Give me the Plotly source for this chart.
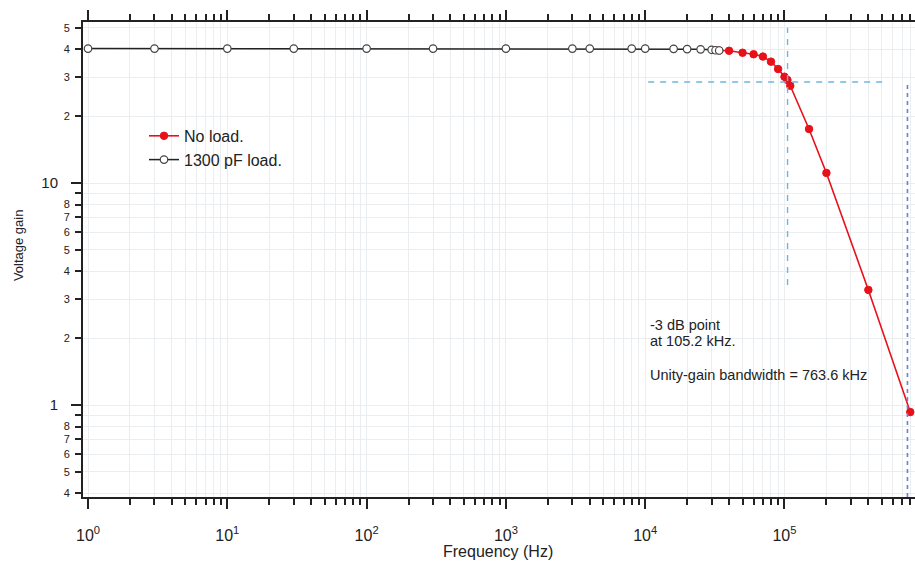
import plotly.graph_objects as go

# ---- data ----
load_freq = [1, 3, 10, 30, 100, 300, 1000, 3000, 4000, 8000, 10000, 16000,
             20000, 25000, 30000, 32000, 34000]
load_gain = [40.3, 40.3, 40.3, 40.3, 40.3, 40.3, 40.3, 40.3, 40.3, 40.3, 40.3,
             40.2, 40.1, 40.0, 39.8, 39.6, 39.5]

noload_freq = [34000, 40000, 50000, 60000, 70000, 80000, 90000, 100000, 105000,
               110000, 150000, 200000, 400000, 800000]
noload_gain = [39.5, 39.4, 38.6, 38.0, 37.1, 35.2, 32.6, 30.1, 29.1,
               27.4, 17.5, 11.1, 3.30, 0.93]

f_3db = 105.2e3
gain_3db = 28.5
f_unity = 763.6e3
vline_gain = [3.47, 50]
hline_freq = [10.5e3, 518e3]
unity_gain_span = [0.385, 28.5]

x_major = [1, 10, 100, 1000, 10000, 100000]
x_major_text = ["10<sup>%d</sup>" % i for i in range(6)]
x_minor = [m * d for d in [1, 10, 100, 1000, 10000, 100000] for m in range(2, 10)]

y_big = [1, 10]
y_big_text = ["1", "10"]
y_small = [0.4, 0.5, 0.6, 0.7, 0.8, 0.9, 2, 3, 4, 5, 6, 7, 8, 9, 20, 30, 40, 50]
y_small_text = ["4", "5", "6", "7", "8", "", "2", "3", "4", "5", "6", "7", "8", "",
                "2", "3", "4", "5"]

note_lines = ["-3 dB point", "at 105.2 kHz.", "Unity-gain bandwidth = 763.6 kHz"]
note_y = [0.3621, 0.3284, 0.2568]

FONT = "Liberation Sans, Arial, sans-serif"
AX = "#222222"
GRID = "#ebeef1"

fig = go.Figure()

fig.add_trace(go.Scatter(
    x=noload_freq, y=noload_gain, mode="lines+markers", name="No load.",
    line=dict(color="#e8111a", width=1.6), cliponaxis=False,
    marker=dict(symbol="circle", size=7.5, color="#e8111a",
                line=dict(color="#e8111a", width=1)),
))
fig.add_trace(go.Scatter(
    x=load_freq, y=load_gain, mode="lines+markers", name="1300 pF load.",
    line=dict(color="#222222", width=1.5), cliponaxis=False,
    marker=dict(symbol="circle", size=7.5, color="white",
                line=dict(color="#444444", width=1.2)),
))

# reference lines
fig.add_trace(go.Scatter(
    x=[f_3db, f_3db], y=vline_gain, mode="lines", showlegend=False,
    line=dict(color="#6cb8dc", width=1.4, dash="6px,6px"), yaxis="y2",
    hoverinfo="skip"))
fig.add_trace(go.Scatter(
    x=hline_freq, y=[gain_3db, gain_3db], mode="lines", showlegend=False,
    line=dict(color="#6cb8dc", width=1.4, dash="6px,6px"), yaxis="y2",
    hoverinfo="skip"))
fig.add_trace(go.Scatter(
    x=[f_unity, f_unity], y=unity_gain_span, mode="lines", showlegend=False,
    line=dict(color="#6a80d4", width=1.6, dash="4px,4px"), yaxis="y2",
    hoverinfo="skip"))

xr = [-0.036, 5.937]
yr = [-0.414, 1.725]

annotations = [
    dict(text="Voltage gain", xref="paper", yref="paper", x=-0.078, y=0.5305,
         xanchor="center", yanchor="middle", textangle=-90, showarrow=False,
         font=dict(size=13, family=FONT, color="#222")),
    dict(text="Frequency (Hz)", xref="paper", yref="paper", x=0.4988, y=-0.1137,
         xanchor="center", yanchor="middle", showarrow=False,
         font=dict(size=16, family=FONT, color="#222")),
]
for txt, yy in zip(note_lines, note_y):
    annotations.append(dict(text=txt, xref="paper", yref="paper", x=0.679, y=yy,
                            xanchor="left", yanchor="middle", align="left",
                            showarrow=False,
                            font=dict(size=14.5, family=FONT, color="#222")))

fig.update_layout(
    width=915, height=562,
    margin=dict(l=83, r=0, t=22, b=65, autoexpand=False),
    paper_bgcolor="white", plot_bgcolor="white",
    font=dict(family=FONT, color="#222222"),
    showlegend=True,
    legend=dict(x=0.0733, y=0.796, xanchor="left", yanchor="top",
                bgcolor="rgba(0,0,0,0)", font=dict(size=16, family=FONT),
                itemwidth=30, tracegroupgap=0),
    xaxis=dict(
        type="log", range=xr, showline=True, linewidth=2, linecolor=AX,
        automargin=False,
        mirror="ticks", ticks="outside", ticklen=10, tickwidth=1.5, tickcolor=AX,
        tickmode="array", tickvals=x_major, ticktext=x_major_text,
        tickfont=dict(size=16, family=FONT, color="#222"),
        ticklabelstandoff=13,
        showgrid=True, gridcolor=GRID, gridwidth=1, zeroline=False,
        minor=dict(tickmode="array", tickvals=x_minor, ticks="outside", ticklen=6,
                   tickwidth=1.5, tickcolor=AX, showgrid=True, gridcolor=GRID,
                   gridwidth=1),
    ),
    yaxis=dict(
        type="log", range=yr, showline=True, linewidth=2, linecolor=AX,
        automargin=False,
        mirror=False, ticks="outside", ticklen=6, tickwidth=1.5, tickcolor=AX,
        tickmode="array", tickvals=y_small, ticktext=y_small_text,
        tickfont=dict(size=11, family=FONT, color="#222"),
        ticklabelstandoff=3,
        showgrid=True, gridcolor=GRID, gridwidth=1, zeroline=False,
    ),
    yaxis2=dict(
        type="log", range=yr, overlaying="y", side="left", anchor="x",
        automargin=False,
        showline=False, ticks="outside", ticklen=11, tickwidth=1.5, tickcolor=AX,
        tickmode="array", tickvals=y_big, ticktext=y_big_text,
        tickfont=dict(size=15, family=FONT, color="#222"),
        ticklabelstandoff=10,
        showgrid=True, gridcolor=GRID, gridwidth=1, zeroline=False,
    ),
    annotations=annotations,
)

# remove the browser's default 8px page margin so the 915x562 figure fills the window
fig.write_html(
    "out.html",
    config={"displayModeBar": False},
    post_script="document.documentElement.style.margin='0';"
                "document.body.style.margin='0';"
                "document.documentElement.style.overflow='hidden';"
                "document.body.style.overflow='hidden';",
)
